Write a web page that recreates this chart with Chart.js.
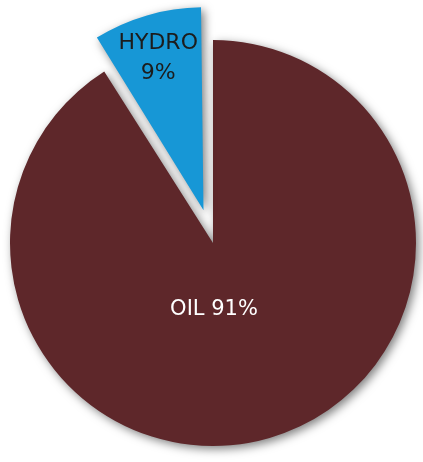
<!DOCTYPE html>
<html><head><meta charset="utf-8">
<script src="https://cdn.jsdelivr.net/npm/chart.js@4"></script>
<style>html,body{margin:0;padding:0;background:#fff}#wrap{width:423px;height:462px}</style>
</head><body><div id="wrap"><canvas id="c" width="423" height="462"></canvas></div>
<script>
const categories = ['OIL', 'HYDRO'];
const shares = [91, 9];
const sliceLabels = [['OIL 91%'], ['HYDRO', '9%']];

const PIE_R = 203;
const COLORS = ['#5e272a', '#1797d6'];

// Chart.js enlarges an offset arc's radius; keep every slice at the same radius.
const radiusFix = {
  id: 'radiusFix',
  afterDatasetUpdate(chart, args) {
    args.meta.data.forEach((arc) => {
      const off = (arc.options.offset || 0) / 4;
      const circ = arc.endAngle - arc.startAngle;
      const fix = 1 - Math.sin(Math.min(Math.PI, circ));
      arc.outerRadius = PIE_R - off * fix;
    });
  }
};

const shadowPlugin = {
  id: 'shadow',
  beforeDatasetDraw(chart) {
    const ctx = chart.ctx;
    ctx.save();
    ctx.shadowColor = 'rgba(0,0,0,0.5)';
    ctx.shadowBlur = 10;
    ctx.shadowOffsetX = 3;
    ctx.shadowOffsetY = 3;
  },
  afterDatasetDraw(chart) { chart.ctx.restore(); }
};

const labelPlugin = {
  id: 'sliceLabels',
  afterDatasetsDraw(chart) {
    const ctx = chart.ctx;
    const meta = chart.getDatasetMeta(0);
    ctx.save();
    ctx.textAlign = 'center';
    ctx.textBaseline = 'middle';
    meta.data.forEach((arc, i) => {
      const lines = sliceLabels[i];
      if (i === 0) {
        ctx.fillStyle = '#ffffff';
        ctx.font = '21px "DejaVu Sans"';
        ctx.fillText(lines[0], arc.x + 1, arc.y + PIE_R * 0.33);
      } else {
        const mid = (arc.startAngle + arc.endAngle) / 2;
        const cx = arc.x + Math.cos(mid) * PIE_R * 0.95 - 1;
        const cy = arc.y + Math.sin(mid) * PIE_R * 0.95;
        ctx.fillStyle = '#1c1c1c';
        ctx.font = '22px "DejaVu Sans"';
        ctx.fillText(lines[0], cx, cy - 15);
        ctx.fillText(lines[1], cx, cy + 15);
      }
    });
    ctx.restore();
  }
};

new Chart(document.getElementById('c'), {
  type: 'pie',
  data: {
    labels: categories,
    datasets: [{
      data: shares,
      backgroundColor: COLORS,
      borderWidth: 0,
      offset: [0, 136],
      radius: PIE_R
    }]
  },
  options: {
    responsive: false,
    devicePixelRatio: 1,
    animation: false,
    events: [],
    layout: { padding: { top: 24, left: 3, right: 0, bottom: 0 } },
    plugins: { legend: { display: false }, tooltip: { enabled: false } }
  },
  plugins: [radiusFix, shadowPlugin, labelPlugin]
});
</script>
</body></html>
